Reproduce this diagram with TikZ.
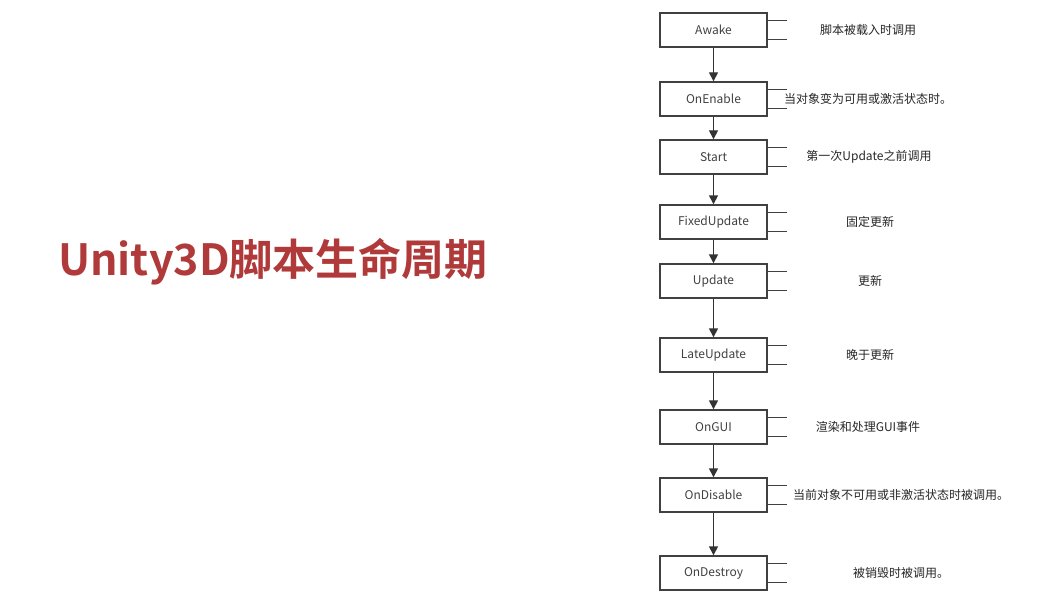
\documentclass[tikz,border=0pt]{standalone}
\usepackage{fontspec}
\setmainfont{Noto Sans CJK SC}[BoldFont={Noto Sans CJK SC Bold}]
\usetikzlibrary{positioning,arrows.meta}
\definecolor{titlered}{HTML}{B03A3A}

\begin{document}
\begin{tikzpicture}[x=1pt,y=-1pt]
    \tikzstyle{stage} = [rectangle, draw=black!75, line width=1.4pt, minimum width=107pt,
        minimum height=34pt, inner sep=0pt, font=\fontsize{12}{14}\selectfont, text=black!75]
    \tikzstyle{note} = [font=\fontsize{12}{14}\selectfont, text=black!85]
    \tikzstyle{line} = [draw=black!80, line width=1.4pt, -{Triangle[length=9pt,width=9pt]}]
    \tikzstyle{stub} = [draw=black!75, line width=1.2pt]
    \useasboundingbox (0,0) rectangle (1064,604);

    % title
    \node[text=titlered, font=\fontsize{43}{50}\selectfont\bfseries] (title) at (273,262)
        {Unity3D脚本生命周期};

    % stages
    \foreach \name/\y/\txt/\nx/\note in {
        awake/30/Awake/868/脚本被载入时调用,
        enable/99/OnEnable/868/当对象变为可用或激活状态时。,
        start/157/Start/869/第一次Update之前调用,
        fixed/222/FixedUpdate/870/固定更新,
        update/281/Update/870/更新,
        late/355/LateUpdate/870/晚于更新,
        gui/427/OnGUI/868/渲染和处理GUI事件,
        disable/495/OnDisable/901/当前对象不可用或非激活状态时被调用。,
        destroy/573/OnDestroy/901/被销毁时被调用。} {
      \node[stage] (\name) at (713.5,\y) {\txt};
      \node[note] (\name note) at (\nx,\y) {\note};
      \draw[stub] ([yshift=-8pt]\name.north east) -- ++(19,0);
      \draw[stub] ([yshift=8pt]\name.south east) -- ++(19,0);
    }

    \draw[line] (awake) -- (enable);
    \draw[line] (enable) -- (start);
    \draw[line] (start) -- (fixed);
    \draw[line] (fixed) -- (update);
    \draw[line] (update) -- (late);
    \draw[line] (late) -- (gui);
    \draw[line] (gui) -- (disable);
    \draw[line] (disable) -- (destroy);
\end{tikzpicture}
\end{document}
